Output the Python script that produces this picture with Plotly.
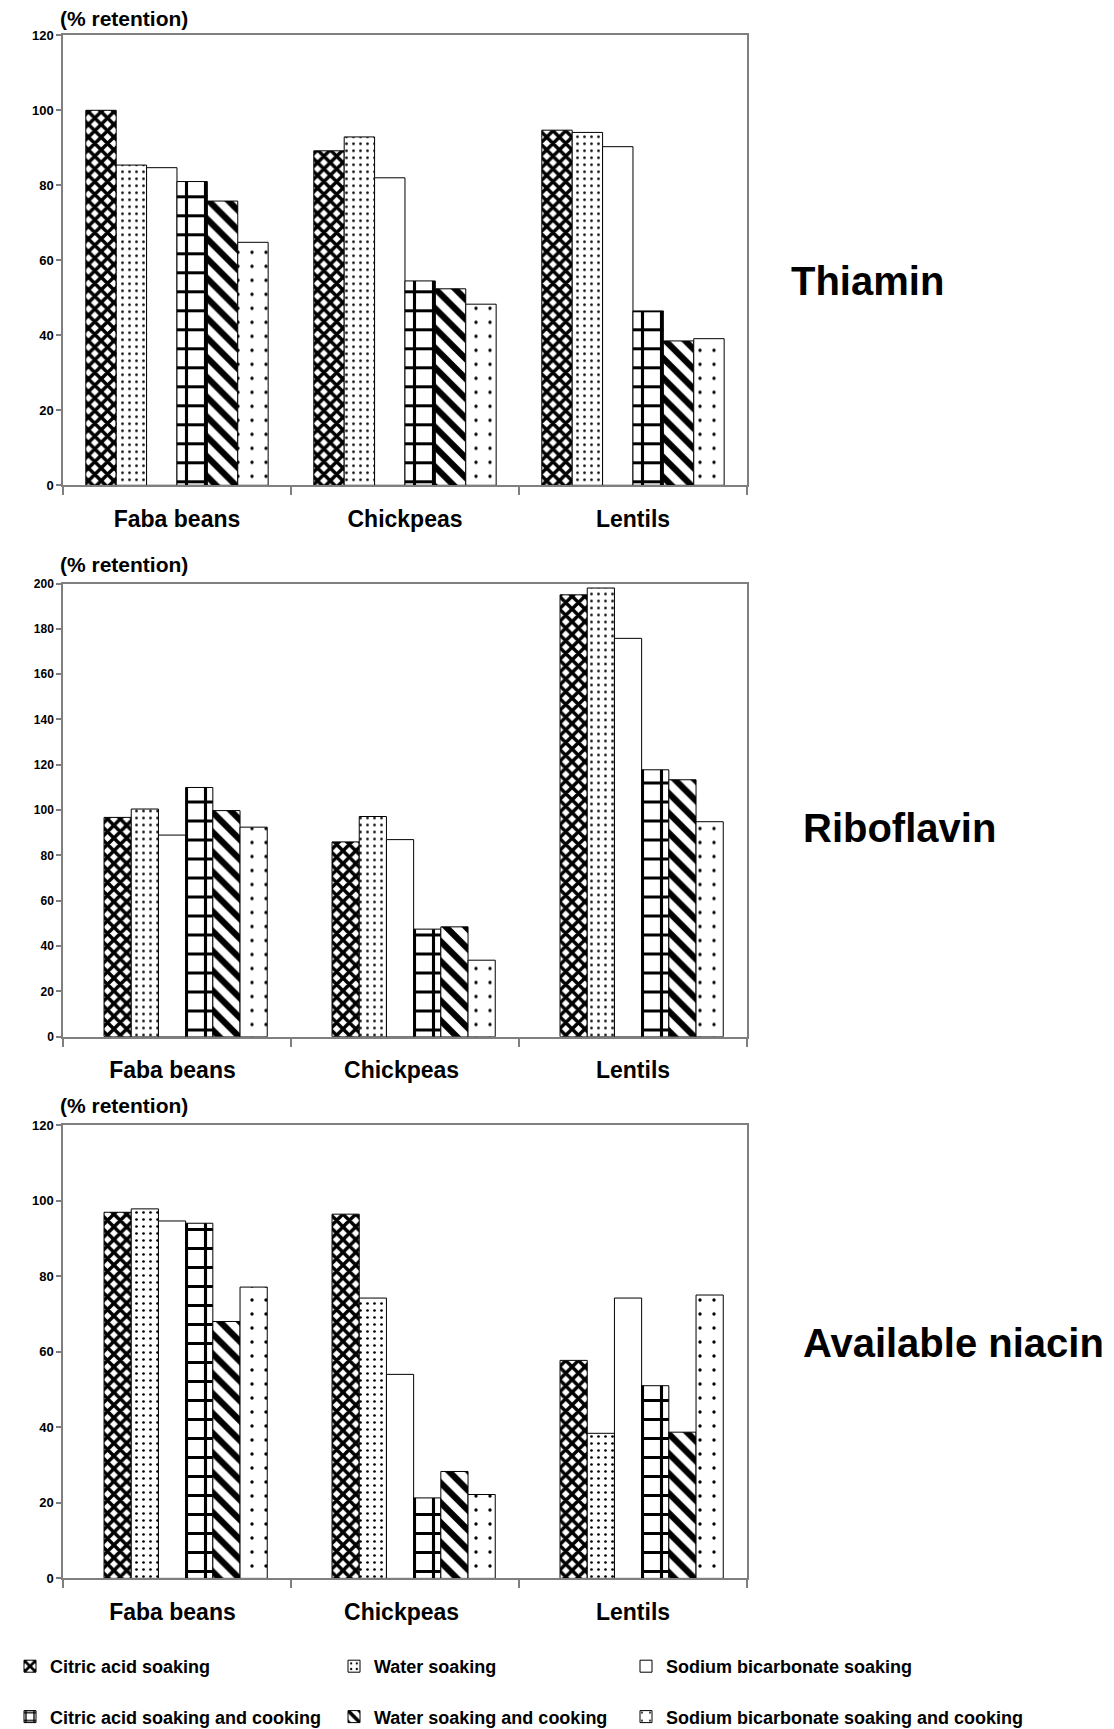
import plotly.graph_objects as go

# ---------------- data ----------------
categories = ["Faba beans", "Chickpeas", "Lentils"]
series_names = [
    "Citric acid soaking",
    "Water soaking",
    "Sodium bicarbonate soaking",
    "Citric acid soaking and cooking",
    "Water soaking and cooking",
    "Sodium bicarbonate soaking and cooking",
]
panel_titles = ["Thiamin", "Riboflavin", "Available niacin"]

# Thiamin (% retention)
thiamin_citric_soak = [100.0, 89.2, 94.7]
thiamin_water_soak = [85.4, 92.9, 94.1]
thiamin_bicarb_soak = [84.7, 82.0, 90.3]
thiamin_citric_cook = [81.0, 54.5, 46.5]
thiamin_water_cook = [75.8, 52.4, 38.5]
thiamin_bicarb_cook = [64.8, 48.3, 39.1]

# Riboflavin (% retention)
riboflavin_citric_soak = [96.8, 86.0, 195.0]
riboflavin_water_soak = [100.5, 97.2, 198.0]
riboflavin_bicarb_soak = [89.0, 87.0, 175.8]
riboflavin_citric_cook = [110.0, 47.5, 117.8]
riboflavin_water_cook = [99.8, 48.5, 113.4]
riboflavin_bicarb_cook = [92.5, 33.8, 94.9]

# Available niacin (% retention)
niacin_citric_soak = [96.9, 96.4, 57.7]
niacin_water_soak = [97.8, 74.2, 38.4]
niacin_bicarb_soak = [94.6, 54.0, 74.2]
niacin_citric_cook = [94.0, 21.3, 51.0]
niacin_water_cook = [68.0, 28.3, 38.7]
niacin_bicarb_cook = [77.1, 22.2, 75.0]

y_max = [120, 200, 120]

panels = [
    [thiamin_citric_soak, thiamin_water_soak, thiamin_bicarb_soak,
     thiamin_citric_cook, thiamin_water_cook, thiamin_bicarb_cook],
    [riboflavin_citric_soak, riboflavin_water_soak, riboflavin_bicarb_soak,
     riboflavin_citric_cook, riboflavin_water_cook, riboflavin_bicarb_cook],
    [niacin_citric_soak, niacin_water_soak, niacin_bicarb_soak,
     niacin_citric_cook, niacin_water_cook, niacin_bicarb_cook],
]

# ---------------- styling ----------------
W, H = 1114, 1729
FONT = "Liberation Sans, Arial, sans-serif"
GRAY = "#7f7f7f"

def pat(shape, size=10, solidity=0.3):
    return dict(shape=shape, fgcolor="black", bgcolor="white", fgopacity=1,
                fillmode="replace", size=size, solidity=solidity)

patterns = [
    pat("x", 9, 0.62),
    pat(".", 7, 0.12),
    pat("", 10, 0.3),
    pat("+", 19, 0.30),
    pat("\\", 14, 0.45),
    pat(".", 14, 0.045),
]

# pixel layout of the three plot areas (top, bottom)
plot_rows = [(35.3, 485.3), (583.5, 1036.8), (1125.0, 1578.4)]
x_left, x_right = 63, 747
# bar group geometry within each category (offset start, bar width) in category units
group_geom = [(-0.40, 0.1333), (-0.32, 0.1193), (-0.32, 0.1193)]
# small horizontal nudges of the category labels (category units)
label_nudge = [[0, 0, 0], [-0.02, -0.015, 0], [-0.02, -0.015, 0]]
label_rows = [18, 564, 1105]
title_pos = [(789, 281), (801, 828), (801, 1343)]

legend_names = ["legend", "legend2", "legend3"]

fig = go.Figure()

for p, values in enumerate(panels):
    xa = "x" if p == 0 else f"x{p+1}"
    ya = "y" if p == 0 else f"y{p+1}"
    start, bw = group_geom[p]
    for i, vals in enumerate(values):
        fig.add_trace(go.Bar(
            x=list(range(len(categories))),
            y=vals,
            name=series_names[i],
            offset=start + i * bw,
            width=bw,
            marker=dict(color="white", line=dict(color="black", width=1),
                        pattern=patterns[i]),
            xaxis=xa, yaxis=ya,
            showlegend=(p == 0),
            legend=legend_names[i % 3],
            legendgroup=series_names[i],
            hovertemplate="%{y}<extra>" + series_names[i] + "</extra>",
        ))

layout = dict(
    width=W, height=H,
    margin=dict(l=0, r=0, t=0, b=0, pad=0, autoexpand=False),
    paper_bgcolor="white", plot_bgcolor="white",
    barmode="overlay",
    font=dict(family=FONT, color="black"),
    annotations=[],
)

for p in range(3):
    top, bot = plot_rows[p]
    xkey = "xaxis" if p == 0 else f"xaxis{p+1}"
    ykey = "yaxis" if p == 0 else f"yaxis{p+1}"
    ya = "y" if p == 0 else f"y{p+1}"
    xa = "x" if p == 0 else f"x{p+1}"
    layout[xkey] = dict(
        domain=[x_left / W, x_right / W], anchor=ya,
        range=[-0.5, 2.5], tickmode="array",
        tickvals=[c + label_nudge[p][c] for c in range(len(categories))],
        ticktext=categories,
        ticks="", showline=True, linecolor=GRAY, linewidth=1.5, mirror=True,
        showgrid=False, zeroline=False, ticklabelstandoff=12, automargin=False,
        tickfont=dict(family=FONT, size=23, weight="bold"),
        minor=dict(tick0=-0.5, dtick=1, ticks="outside", ticklen=8,
                   tickcolor=GRAY, tickwidth=1.5, showgrid=False),
        fixedrange=True,
    )
    layout[ykey] = dict(
        domain=[1 - bot / H, 1 - top / H], anchor=xa,
        range=[0, y_max[p]], dtick=20, tick0=0,
        ticks="outside", ticklen=5, tickcolor=GRAY, tickwidth=1.5,
        showline=True, linecolor=GRAY, linewidth=1.5, mirror=True,
        showgrid=False, zeroline=False, automargin=False,
        tickfont=dict(family=FONT, size=13 if p != 1 else 12, weight="bold"),
        fixedrange=True,
    )
    layout["annotations"].append(dict(
        text="(% retention)", xref="paper", yref="paper",
        x=58 / W, y=1 - label_rows[p] / H, xanchor="left", yanchor="middle",
        showarrow=False, font=dict(family=FONT, size=21, weight="bold"),
    ))
    tx, ty = title_pos[p]
    layout["annotations"].append(dict(
        text=panel_titles[p], xref="paper", yref="paper",
        x=tx / W, y=1 - ty / H, xanchor="left", yanchor="middle",
        showarrow=False, font=dict(family=FONT, size=40, weight="bold"),
    ))

legend_x = [10, 334, 626]
for k, name in enumerate(legend_names):
    layout[name] = dict(
        x=legend_x[k] / W, y=1 - 1648 / H, xanchor="left", yanchor="top",
        orientation="v", bgcolor="rgba(0,0,0,0)", traceorder="grouped",
        tracegroupgap=24, font=dict(family=FONT, size=18, weight="bold"),
    )

fig.update_layout(**layout)
fig.write_html(
    "out.html",
    config={"displayModeBar": False},
    post_script="document.body.style.margin='0px';document.body.style.padding='0px';",
)
